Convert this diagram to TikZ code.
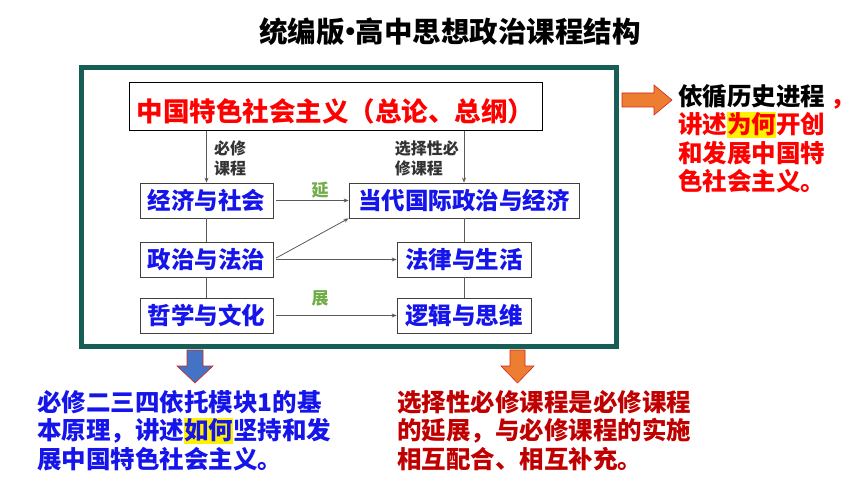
\documentclass[tikz,border=0pt]{standalone}
\usepackage{fontspec}
\setmainfont{Noto Sans CJK SC}
\usepackage{xcolor}
\usepackage{tikz}
\usetikzlibrary{arrows.meta}
\definecolor{Frame}{RGB}{22, 94, 86}
\definecolor{BoxBlue}{RGB}{20, 20, 235}
\definecolor{TopRed}{RGB}{255, 0, 0}
\definecolor{NoteRed}{RGB}{192, 0, 0}
\definecolor{ExtGreen}{RGB}{112, 173, 71}
\definecolor{LinkGray}{RGB}{90, 90, 90}
\definecolor{ArrOrange}{RGB}{237, 125, 49}
\definecolor{ArrBlue}{RGB}{68, 114, 196}
\definecolor{ArrEdge}{RGB}{210, 40, 30}
\newcommand{\hlmark}[1]{{\setlength{\fboxsep}{0pt}\colorbox{yellow}{\rule[-4pt]{0pt}{26pt}#1}}}

\begin{document}
\begin{tikzpicture}[x=1pt, y=-1pt,
  course/.style={draw=black!75, line width=0.8pt, fill=white, text=BoxBlue,
    font=\fontsize{23.5}{26}\selectfont\bfseries, minimum height=35, inner sep=0pt},
  tag/.style={font=\fontsize{16}{20}\selectfont\bfseries, text=black!80, align=left, inner sep=0pt},
  ext/.style={font=\fontsize{17}{20}\selectfont\bfseries, text=ExtGreen, inner sep=0pt},
  link/.style={draw=LinkGray, line width=0.8pt},
  flow/.style={link, -{Stealth[length=5pt, width=4pt]}},
  note/.style={font=\fontsize{24.5}{28.5}\selectfont\bfseries, align=left, inner sep=0pt, anchor=north west}]
\useasboundingbox[fill=white] (0,0) rectangle (860,484);

% title
\node[font=\fontsize{28.5}{30}\selectfont\bfseries] (title) at (450,32)
  {统编版\hspace{-0.3em}·\hspace{-0.3em}高中思想政治课程结构};

% frame
\draw[Frame, line width=5pt, fill=white] (81.5,67.5) rectangle (616.5,346.5);

% top box
\node[draw=black, line width=1pt, minimum width=413, minimum height=48, inner sep=0pt,
  text height=29pt, text depth=0pt,
  text=TopRed, font=\fontsize{26.5}{28}\selectfont\bfseries] (core) at (335.5,107)
  {中国特色社会主义（总论、总纲）};

% courses
\node[course, minimum width=133] (econ) at (206.5,200.5) {经济与社会};
\node[course, minimum width=133] (pol) at (206.5,259.5) {政治与法治};
\node[course, minimum width=133] (phil) at (206.5,315.5) {哲学与文化};
\node[course, minimum width=230] (intl) at (464,200.5) {当代国际政治与经济};
\node[course, minimum width=134] (law) at (464,259.5) {法律与生活};
\node[course, minimum width=134] (logic) at (464,315.5) {逻辑与思维};

% links
\draw[flow] (core.south -| econ) -- (econ.north);
\draw[flow] (core.south -| intl) -- (intl.north);
\node[tag, anchor=west] (req) at (214,158) {必修\\课程};
\node[tag, anchor=east] (sel) at (459,158) {选择性必\\修课程};
\draw[link] (econ) -- (pol);
\draw[link] (pol) -- (phil);
\draw[link] (intl) -- (law);
\draw[link] (law) -- (logic);
\draw[flow, shorten <=3pt] (econ.east) -- (intl.west);
\draw[flow, shorten <=3pt] (pol.east) -- (intl.south west);
\draw[flow, shorten <=3pt] (pol.east) -- (law.west);
\draw[flow, shorten <=3pt] (phil.east) -- (logic.west);
\node[ext] (yan) at (320,190) {延};
\node[ext] (zhan) at (320,298) {展};

% block arrows
\filldraw[fill=ArrOrange, draw=ArrEdge, line width=0.6pt]
  (622,93) -- (654,93) -- (654,85) -- (672,100) -- (654,115) -- (654,107) -- (622,107) -- cycle;
\filldraw[fill=ArrBlue, draw=ArrEdge, line width=0.6pt]
  (187,350) -- (203,350) -- (203,366) -- (213,366) -- (195,383) -- (177,366) -- (187,366) -- cycle;
\filldraw[fill=ArrOrange, draw=ArrEdge, line width=0.6pt]
  (510,350) -- (525,350) -- (525,366) -- (534,366) -- (517.5,383) -- (501,366) -- (510,366) -- cycle;

% notes
\node[note] (why) at (678,84) {依循历史进程\hspace{5pt}\textcolor{TopRed}{，}\\
  \textcolor{TopRed}{讲述\hlmark{为何}开创}\\
  \textcolor{TopRed}{和发展中国特}\\
  \textcolor{TopRed}{色社会主义。}};
\node[note, text=BoxBlue] (how) at (37,390) {必修二三四依托模块1的基\\
  本原理，讲述\hlmark{如何}坚持和发\\
  展中国特色社会主义。};
\node[note, text=NoteRed] (rel) at (397,390) {选择性必修课程是必修课程\\
  的延展，与必修课程的实施\\
  相互配合、相互补充。};
\end{tikzpicture}
\end{document}
